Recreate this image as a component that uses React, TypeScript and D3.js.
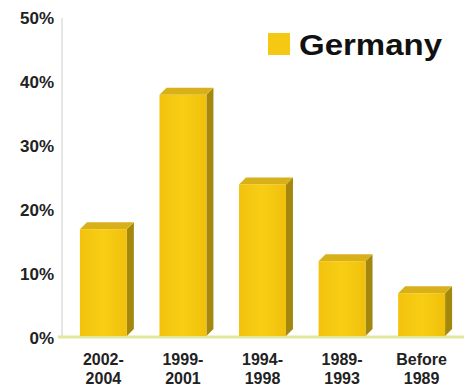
import React from "react";
import * as d3 from "d3";

const categories = ["2002-\n2004", "1999-\n2001", "1994-\n1998", "1989-\n1993", "Before\n1989"];
const values = [17, 38, 24, 12, 7];
const yTicks = [0, 10, 20, 30, 40, 50];
const seriesName = "Germany";

export default function App() {
  const W = 464, H = 386;
  const x0 = 62, x1 = 464;
  const y = d3.scaleLinear().domain([0, 50]).range([338, 18]);
  const x = d3.scaleBand().domain(categories).range([x0 + 2, x0 + 2 + 5 * 79.4]).paddingInner(0.41).paddingOuter(0.2);
  const depth = 7;
  const font = "Liberation Sans, Arial, sans-serif";
  return (
    <svg width={W} height={H} style={{ position: "absolute", left: 0, top: 0 }}>
      <defs>
        <linearGradient id="front" x1="0" x2="1" y1="0" y2="0">
          <stop offset="0" stopColor="#F2C20E" />
          <stop offset="0.5" stopColor="#F8CE14" />
          <stop offset="1" stopColor="#F0C00C" />
        </linearGradient>
      </defs>
      <rect width={W} height={H} fill="#fff" />
      <line x1={x0} x2={x0} y1={y(50)} y2={y(0)} stroke="#e6e6e6" strokeWidth={2} />
      <line x1={x0 - 4} x2={x1} y1={y(0) - 1} y2={y(0) - 1} stroke="#e2e89a" strokeWidth={3} />
      {yTicks.map(t => (
        <text key={t} x={54} y={y(t) + 6} textAnchor="end" fontFamily={font} fontWeight="bold" fontSize={17} fill="#222">{t}%</text>
      ))}
      {categories.map((c, i) => {
        const bx = x(c)!;
        const bw = x.bandwidth();
        const top = y(values[i]);
        const bot = y(0) - 2;
        return (
          <g key={c}>
            <polygon points={`${bx + bw},${top} ${bx + bw + depth},${top - depth} ${bx + bw + depth},${bot - depth} ${bx + bw},${bot}`} fill="#A4880E" />
            <polygon points={`${bx},${top} ${bx + depth},${top - depth} ${bx + bw + depth},${top - depth} ${bx + bw},${top}`} fill="#D8B11A" />
            <rect x={bx} y={top} width={bw} height={bot - top} fill="url(#front)" />
            {c.split("\n").map((line, k) => (
              <text key={k} x={bx + bw / 2} y={365 + k * 19} textAnchor="middle" fontFamily={font} fontWeight="bold" fontSize={16} fill="#222">{line}</text>
            ))}
          </g>
        );
      })}
      <rect x={268} y={33} width={22} height={22} fill="#F5C814" />
      <text x={299} y={55} fontFamily={font} fontWeight="bold" fontSize={29} textLength={143} lengthAdjust="spacingAndGlyphs" fill="#111">{seriesName}</text>
    </svg>
  );
}
